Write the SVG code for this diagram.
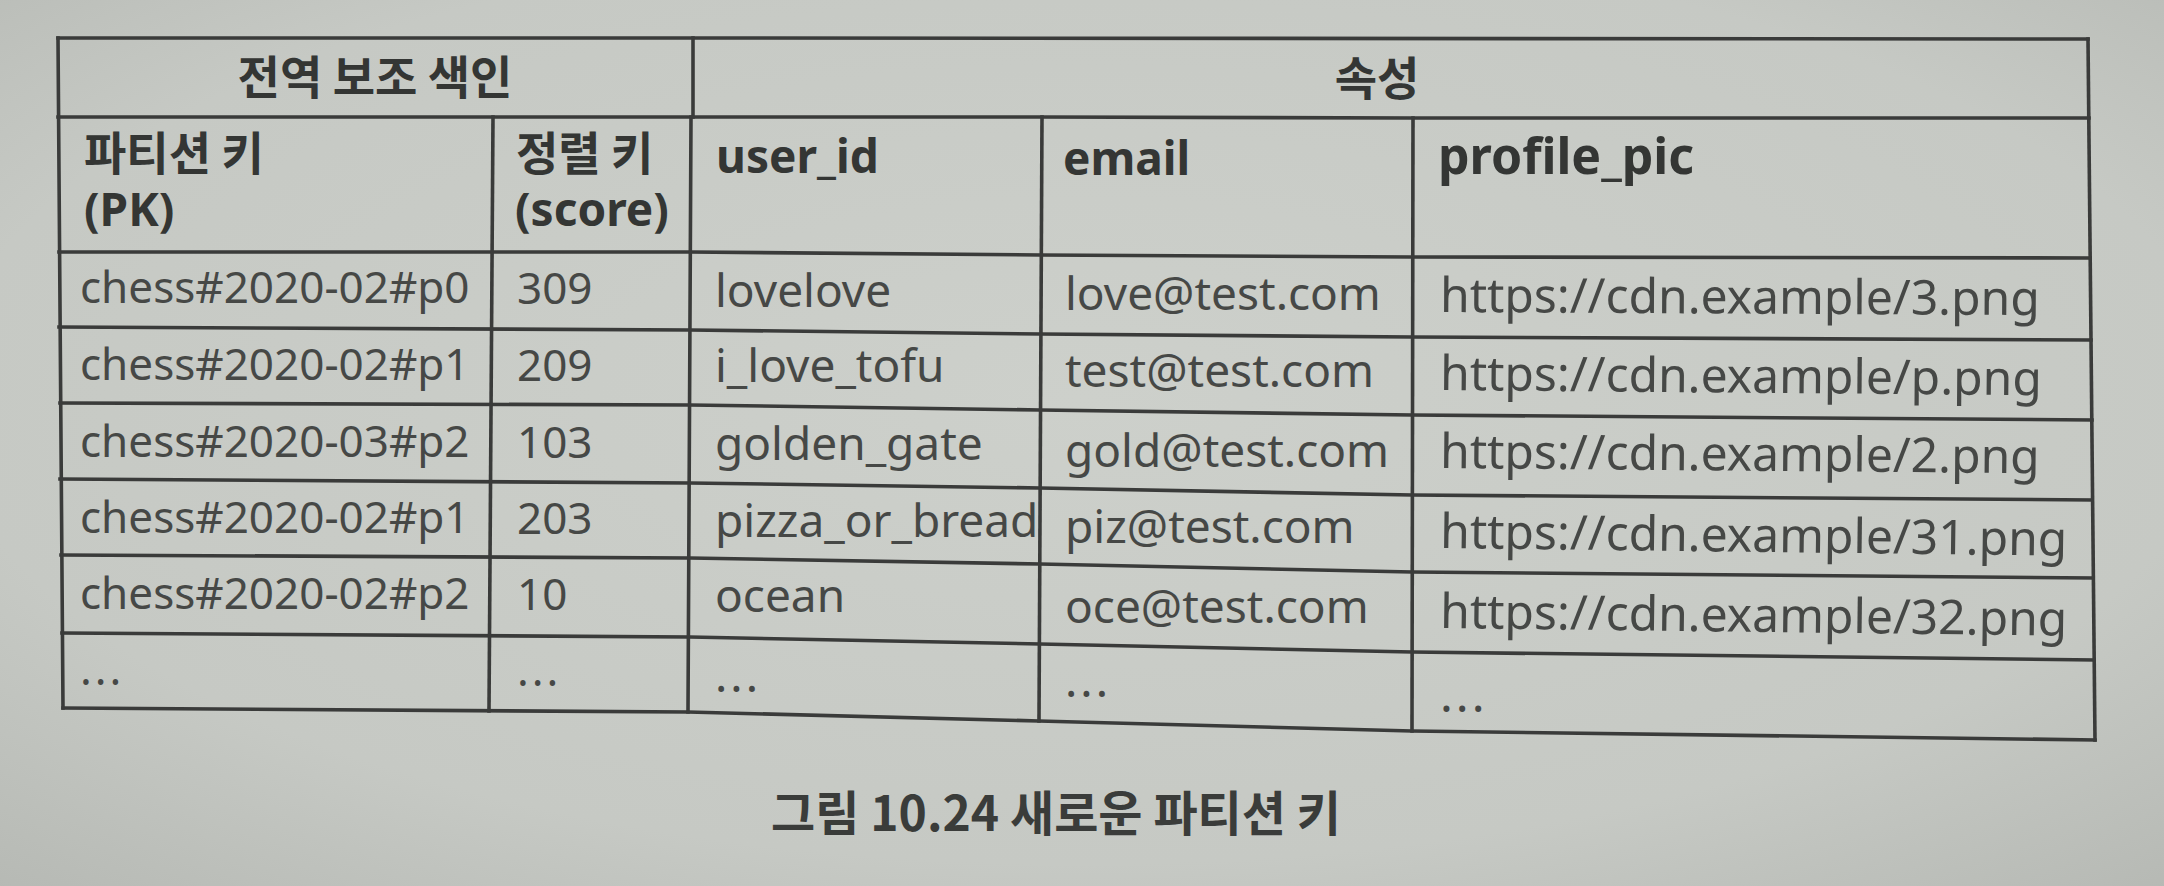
<svg xmlns="http://www.w3.org/2000/svg" width="2164" height="886" viewBox="0 0 2164 886">
  <defs>
    <radialGradient id="paper" cx="0.5" cy="0.45" r="0.75">
      <stop offset="0" stop-color="#cdd0cb"/>
      <stop offset="0.7" stop-color="#c6c9c4"/>
      <stop offset="1" stop-color="#b6b9b4"/>
    </radialGradient>
    <style>
      .ln { fill: none; stroke: #3a3b3a; stroke-width: 3.6; stroke-linejoin: round; stroke-linecap: square; }
      .d { font-family: "Noto Sans", "Noto Sans CJK KR", sans-serif; font-size: 44px; fill: #464846; }
      .d2 { font-size: 46px; }
      .d3 { font-size: 48px; }
      .hb { font-family: "Noto Sans", "Noto Sans CJK KR", sans-serif; font-size: 46px; font-weight: 700; fill: #343634; }
      .hk { font-family: "Noto Sans CJK KR", sans-serif; font-size: 46px; font-weight: 700; fill: #343634; }
      .cap { font-family: "Noto Sans CJK KR", sans-serif; font-size: 48px; font-weight: 700; fill: #3a3c3a; }
      .dots { letter-spacing: 3px; }
    </style>
  </defs>

  <rect x="0" y="0" width="2164" height="886" fill="url(#paper)"/>

  <g id="grid">
    <polyline class="ln" points="58,38 693,38 2088,39"/>
    <polyline class="ln" points="58,117 693,117 1040,117 1412,118 2089,118"/>
    <polyline class="ln" points="59,252 690,252 1040,255 1412,257 2090,258"/>
    <polyline class="ln" points="59,327 690,330 1040,334 1412,337 2091,340"/>
    <polyline class="ln" points="60,403 690,405 1040,410 1412,415 2092,420"/>
    <polyline class="ln" points="60,479 690,483 1040,488 1412,495 2092,500"/>
    <polyline class="ln" points="61,555 690,558 1040,564 1412,572 2093,578"/>
    <polyline class="ln" points="62,633 690,637 1040,644 1412,652 2094,660"/>
    <polyline class="ln" points="63,708 688,712 1039,721 1412,731 2095,740"/>
    <line class="ln" x1="58" y1="38" x2="63" y2="708"/>
    <line class="ln" x1="2088" y1="39" x2="2095" y2="740"/>
    <line class="ln" x1="693" y1="38" x2="693" y2="117"/>
    <line class="ln" x1="493" y1="117" x2="489" y2="711"/>
    <line class="ln" x1="691" y1="117" x2="688" y2="712"/>
    <line class="ln" x1="1042" y1="117" x2="1039" y2="721"/>
    <line class="ln" x1="1413" y1="118" x2="1412" y2="731"/>
  </g>

  <g id="header-groups">
    <text class="hk" x="375" y="94" text-anchor="middle">전역 보조 색인</text>
    <text class="hk" x="1377" y="95" text-anchor="middle">속성</text>
  </g>

  <g id="header-columns">
    <text class="hk" x="84" y="170">파티션 키</text>
    <text class="hb" x="84" y="226">(PK)</text>
    <text class="hk" x="516" y="170">정렬 키</text>
    <text class="hb" x="515" y="226">(score)</text>
    <text class="hb" x="716" y="173">user_id</text>
    <text class="hb" x="1063" y="175">email</text>
    <text class="hb" x="1438" y="174" style="font-size:50px">profile_pic</text>
  </g>

  <g id="row-1">
    <text class="d" x="80" y="303">chess#2020-02#p0</text>
    <text class="d" x="517" y="304">309</text>
    <text class="d d2" x="715" y="307">lovelove</text>
    <text class="d d2" x="1065" y="310">love@test.com</text>
    <text class="d d3" x="1440" y="312" transform="rotate(0.3 1440 312)">https://cdn.example/3.png</text>
  </g>

  <g id="row-2">
    <text class="d" x="80" y="380">chess#2020-02#p1</text>
    <text class="d" x="517" y="381">209</text>
    <text class="d d2" x="715" y="382">i_love_tofu</text>
    <text class="d d2" x="1065" y="387">test@test.com</text>
    <text class="d d3" x="1440" y="390" transform="rotate(0.5 1440 390)">https://cdn.example/p.png</text>
  </g>

  <g id="row-3">
    <text class="d" x="80" y="457">chess#2020-03#p2</text>
    <text class="d" x="517" y="458">103</text>
    <text class="d d2" x="715" y="460">golden_gate</text>
    <text class="d d2" x="1065" y="467">gold@test.com</text>
    <text class="d d3" x="1440" y="468" transform="rotate(0.5 1440 468)">https://cdn.example/2.png</text>
  </g>

  <g id="row-4">
    <text class="d" x="80" y="533">chess#2020-02#p1</text>
    <text class="d" x="517" y="534">203</text>
    <text class="d d2" x="715" y="537">pizza_or_bread</text>
    <text class="d d2" x="1065" y="543">piz@test.com</text>
    <text class="d d3" x="1440" y="548" transform="rotate(0.7 1440 548)">https://cdn.example/31.png</text>
  </g>

  <g id="row-5">
    <text class="d" x="80" y="609">chess#2020-02#p2</text>
    <text class="d" x="517" y="610">10</text>
    <text class="d d2" x="715" y="612">ocean</text>
    <text class="d d2" x="1065" y="623">oce@test.com</text>
    <text class="d d3" x="1440" y="628" transform="rotate(0.7 1440 628)">https://cdn.example/32.png</text>
  </g>

  <g id="row-6">
    <text class="d dots" x="80" y="685">...</text>
    <text class="d dots" x="517" y="686">...</text>
    <text class="d d2 dots" x="715" y="692">...</text>
    <text class="d d2 dots" x="1065" y="697">...</text>
    <text class="d d3 dots" x="1440" y="712">...</text>
  </g>

  <g id="caption">
    <text class="cap" x="1056" y="831" text-anchor="middle">그림 10.24 새로운 파티션 키</text>
  </g>
</svg>
